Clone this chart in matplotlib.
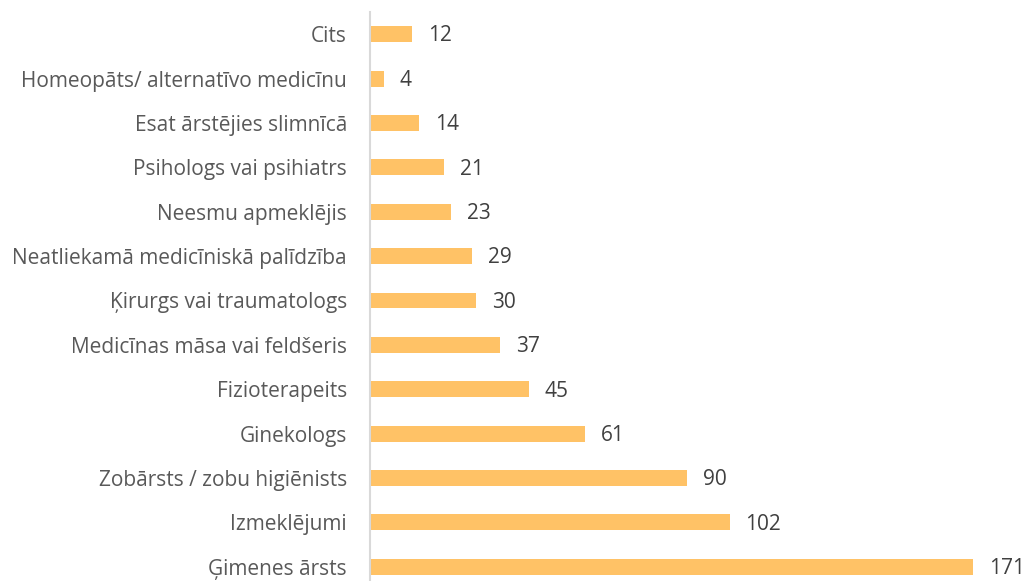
import matplotlib.pyplot as plt

# kategorijas no augšas uz leju
categories = ['Cits', 'Homeopāts/ alternatīvo medicīnu', 'Esat ārstējies slimnīcā',
              'Psihologs vai psihiatrs', 'Neesmu apmeklējis',
              'Neatliekamā medicīniskā palīdzība', 'Ķirurgs vai traumatologs',
              'Medicīnas māsa vai feldšeris', 'Fizioterapeits', 'Ginekologs',
              'Zobārsts / zobu higiēnists', 'Izmeklējumi', 'Ģimenes ārsts']
values = [12, 4, 14, 21, 23, 29, 30, 37, 45, 61, 90, 102, 171]

plt.rcParams['font.family'] = ['Open Sans', 'DejaVu Sans']

fig = plt.figure(figsize=(10.28, 5.81), dpi=100)
# ass no x=370px līdz labajai malai, y no 12px līdz 589px
ax = fig.add_axes([370 / 1028, -8 / 581, 1 - 370 / 1028, (589 - 12) / 581])

pos = list(range(len(categories)))
ax.barh(pos, values, height=0.36, color='#FFC266')
for p, v in zip(pos, values):
    ax.text(v + 4.5, p + 0.04, str(v), va='center', ha='left', fontsize=15, color='#404040')

ax.set_ylim(len(categories) - 0.5, -0.5)
ax.set_xlim(0, 186.6)
ax.set_yticks(pos)
ax.set_yticklabels(categories, fontsize=15, color='#595959')
ax.tick_params(axis='y', length=0, pad=16.5)
ax.set_xticks([])

for s in ['top', 'right', 'bottom']:
    ax.spines[s].set_visible(False)
ax.spines['left'].set_color('#D9D9D9')
ax.spines['left'].set_linewidth(1.5)

plt.savefig('out.png', dpi=100)
plt.close()
